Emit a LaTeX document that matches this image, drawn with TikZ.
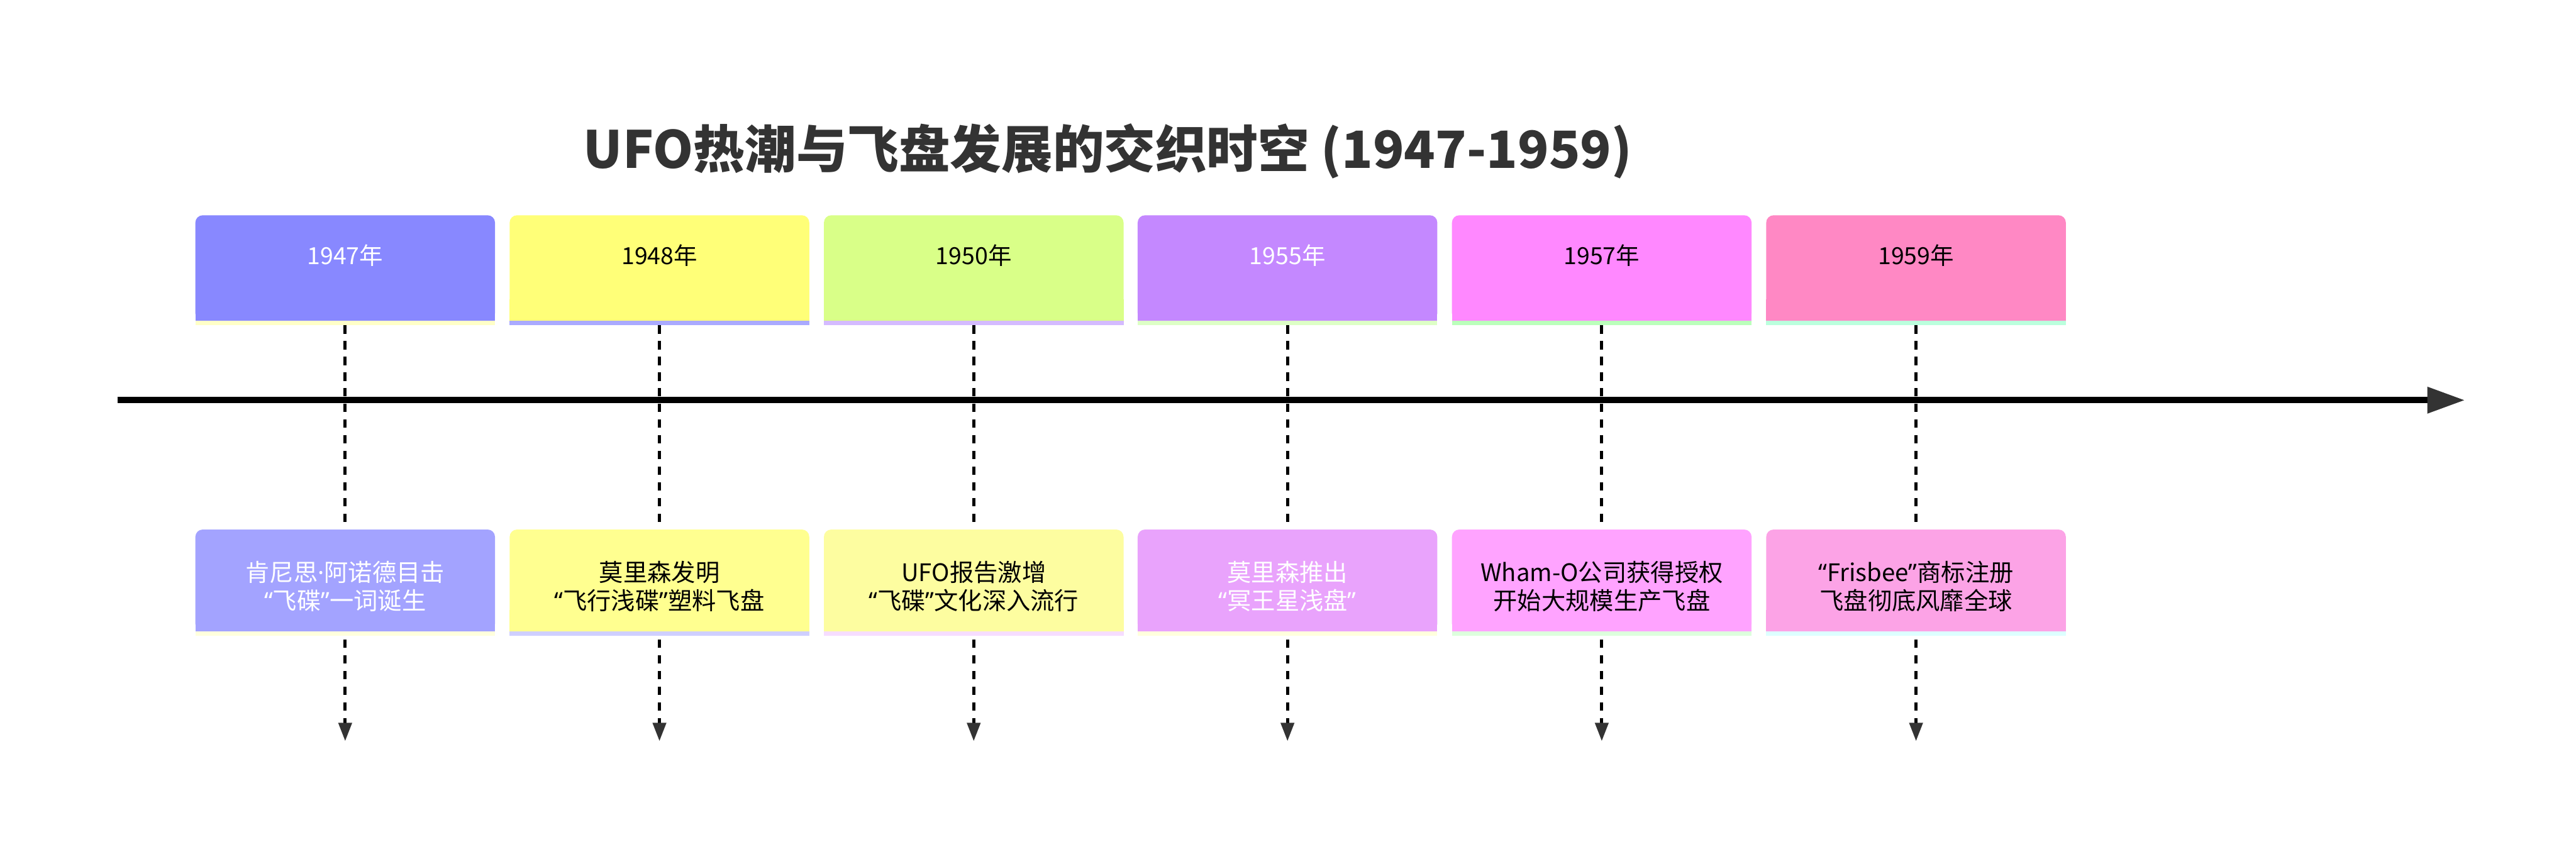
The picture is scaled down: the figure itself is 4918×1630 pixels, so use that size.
\documentclass[tikz,border=0pt]{standalone}
\usepackage{fontspec}
\setmainfont{Noto Sans CJK SC}
\newfontfamily\latinq{Noto Sans}
\newcommand{\qopen}{{\latinq “}}
\newcommand{\qclose}{{\latinq ”}}
\newcommand{\mdot}{{\latinq ·}}
\usetikzlibrary{arrows.meta}
\pgfdeclarelayer{bg}
\pgfdeclarelayer{lines}
\pgfdeclarelayer{fills}
\pgfsetlayers{bg,lines,fills,main}

\definecolor{titlegray}{HTML}{333333}
\definecolor{tipgray}{HTML}{333333}
% period fills / strips
\definecolor{pf1}{HTML}{8888FF}\definecolor{ps1}{HTML}{FFFFC8}
\definecolor{pf2}{HTML}{FFFF78}\definecolor{ps2}{HTML}{AAAAFF}
\definecolor{pf3}{HTML}{D9FF88}\definecolor{ps3}{HTML}{D4BBFF}
\definecolor{pf4}{HTML}{C488FF}\definecolor{ps4}{HTML}{DDFFC6}
\definecolor{pf5}{HTML}{FF88FF}\definecolor{ps5}{HTML}{BBFFBB}
\definecolor{pf6}{HTML}{FF88C4}\definecolor{ps6}{HTML}{BBFFDD}
% event fills / strips
\definecolor{ef1}{HTML}{A3A3FF}\definecolor{es1}{HTML}{FFFFDD}
\definecolor{ef2}{HTML}{FFFF90}\definecolor{es2}{HTML}{CFCFFF}
\definecolor{ef3}{HTML}{FDFDA0}\definecolor{es3}{HTML}{F6DDFF}
\definecolor{ef4}{HTML}{E9A3FC}\definecolor{es4}{HTML}{FFFFDD}
\definecolor{ef5}{HTML}{FFA3FF}\definecolor{es5}{HTML}{DDFFDD}
\definecolor{ef6}{HTML}{FCA3E6}\definecolor{es6}{HTML}{DDFFFF}

% #1 node, #2 fill, #3 strip colour, #4 vertical offset of the box against the node
\newcommand{\tlfill}[4]{%
  \begin{pgfonlayer}{fills}
    \fill[#2, rounded corners=2.8pt] ([yshift=#4]#1.south west) rectangle ([yshift=#4]#1.north east);
    \fill[#2] ([yshift=#4]#1.south west) rectangle ([yshift=#4+8pt]#1.south east);
    \fill[#3] ([yshift=#4]#1.south west) rectangle ([yshift=#4-1.8pt]#1.south east);
  \end{pgfonlayer}}

\tikzset{
  pbox/.style={anchor=north, minimum width=114pt, inner xsep=0pt, inner ysep=0pt,
    text height=18.5pt, text depth=21.3pt, font=\fontsize{9pt}{10.8pt}\selectfont},
  ebox/.style={anchor=north, minimum width=114pt, minimum height=38.4pt, inner sep=0pt,
    align=center, font=\fontsize{9.2pt}{10.8pt}\selectfont},
  tline/.style={line width=2.4pt, draw=black, -{Triangle[length=14.4pt,width=9.6pt,color=tipgray]}},
  dline/.style={line width=1.2pt, draw=black, dash pattern=on 3.2pt off 2.8pt,
    -{Triangle[length=7pt,width=5pt,color=tipgray]}}
}

\begin{document}
\begin{tikzpicture}[x=0.2pt,y=-0.2pt]
\begin{pgfonlayer}{bg}
  \fill[white] (0,0) rectangle (4918,1630);
\end{pgfonlayer}
\useasboundingbox (0,0) rectangle (4918,1630);

% title
\node[anchor=base, text=titlegray, font=\fontsize{19.6pt}{24pt}\selectfont\bfseries] (title) at (2115,321)
  {UFO热潮与飞盘发展的交织时空 (1947-1959)};

% main timeline
\coordinate (tlstart) at (224,764);
\coordinate (tlend) at (4706,764);
\draw[tline] (tlstart) -- (tlend);

% period boxes
\node[pbox, text=white] (p1) at (659,411) {1947年};
\node[pbox, text=black] (p2) at (1259,411) {1948年};
\node[pbox, text=black] (p3) at (1859,411) {1950年};
\node[pbox, text=white] (p4) at (2458,411) {1955年};
\node[pbox, text=black] (p5) at (3058,411) {1957年};
\node[pbox, text=black] (p6) at (3658,411) {1959年};
\tlfill{p1}{pf1}{ps1}{0pt}
\tlfill{p2}{pf2}{ps2}{0pt}
\tlfill{p3}{pf3}{ps3}{0pt}
\tlfill{p4}{pf4}{ps4}{0pt}
\tlfill{p5}{pf5}{ps5}{0pt}
\tlfill{p6}{pf6}{ps6}{0pt}

% event boxes (text sits slightly below the box centre)
\node[ebox, text=white] (e1) at (659,1023) {肯尼思\mdot 阿诺德目击\\\qopen 飞碟\qclose 一词诞生};
\node[ebox, text=black] (e2) at (1259,1023) {莫里森发明\\\qopen 飞行浅碟\qclose 塑料飞盘};
\node[ebox, text=black] (e3) at (1859,1023) {UFO报告激增\\\qopen 飞碟\qclose 文化深入流行};
\node[ebox, text=white] (e4) at (2458,1023) {莫里森推出\\\qopen 冥王星浅盘\qclose};
\node[ebox, text=black] (e5) at (3058,1023) {Wham-O公司获得授权\\开始大规模生产飞盘};
\node[ebox, text=black] (e6) at (3658,1023) {\qopen Frisbee\qclose 商标注册\\飞盘彻底风靡全球};
\tlfill{e1}{ef1}{es1}{2.4pt}
\tlfill{e2}{ef2}{es2}{2.4pt}
\tlfill{e3}{ef3}{es3}{2.4pt}
\tlfill{e4}{ef4}{es4}{2.4pt}
\tlfill{e5}{ef5}{es5}{2.4pt}
\tlfill{e6}{ef6}{es6}{2.4pt}

% dashed connectors
\coordinate (d1) at (659,1415);
\coordinate (d2) at (1259,1415);
\coordinate (d3) at (1859,1415);
\coordinate (d4) at (2458,1415);
\coordinate (d5) at (3058,1415);
\coordinate (d6) at (3658,1415);
\begin{pgfonlayer}{lines}
  \foreach \i in {1,...,6} {
    \draw[dline] ([yshift=-1.8pt]p\i.south) -- (d\i);
  }
\end{pgfonlayer}
\end{tikzpicture}
\end{document}
